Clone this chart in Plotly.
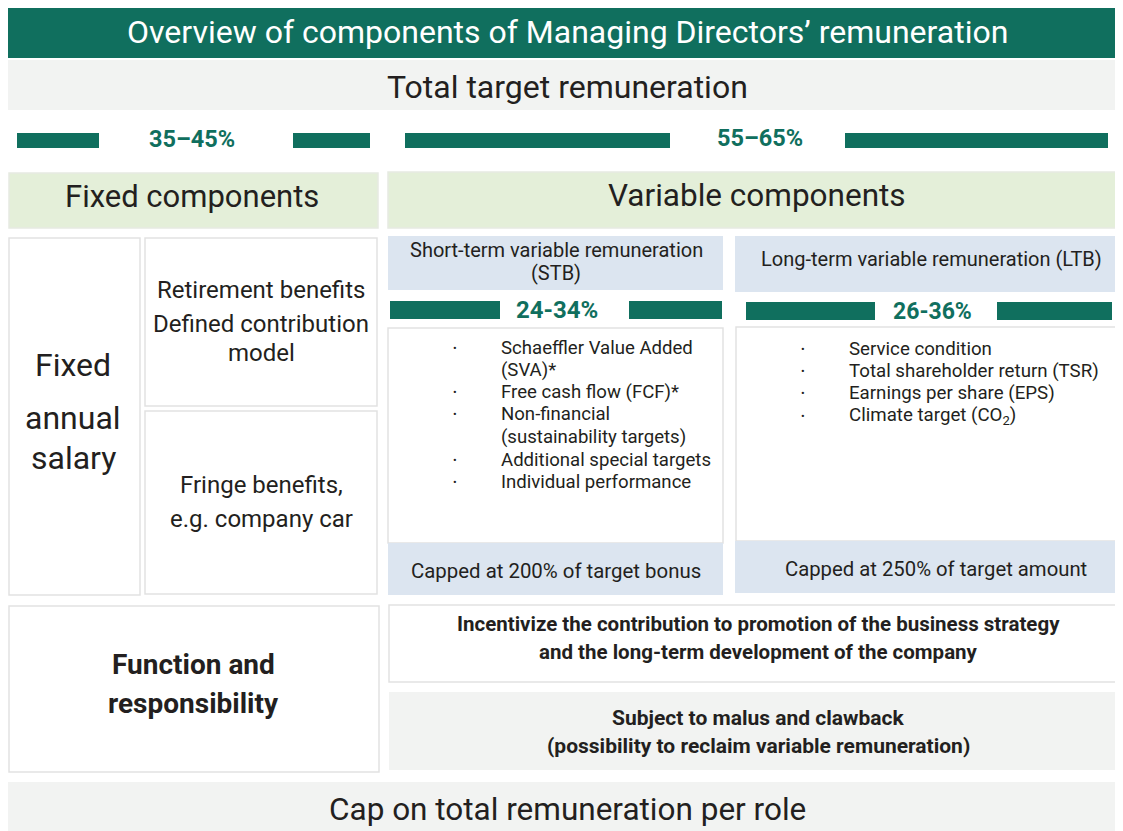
import plotly.graph_objects as go

W, H = 1123, 831
OFF = 8  # default page margin of the html body

# ---- text content ----
title = "Overview of components of Managing Directors’ remuneration"
total_label = "Total target remuneration"
fixed_share = "35–45%"
variable_share = "55–65%"
fixed_header = "Fixed components"
variable_header = "Variable components"
fixed_salary_lines = ["Fixed", "annual", "salary"]
retirement_lines = ["Retirement benefits", "Defined contribution", "model"]
fringe_lines = ["Fringe benefits,", "e.g. company car"]
stb_header_lines = ["Short-term variable remuneration", "(STB)"]
ltb_header = "Long-term variable remuneration (LTB)"
stb_share = "24-34%"
ltb_share = "26-36%"
stb_items = ["Schaeffler Value Added", "(SVA)*", "Free cash flow (FCF)*", "Non-financial",
             "(sustainability targets)", "Additional special targets", "Individual performance"]
stb_bullets = [True, False, True, True, False, True, True]
ltb_items = ["Service condition", "Total shareholder return (TSR)", "Earnings per share (EPS)",
             "Climate target (CO<sub>2</sub>)"]
stb_cap = "Capped at 200% of target bonus"
ltb_cap = "Capped at 250% of target amount"
function_lines = ["Function and", "responsibility"]
incentive_lines = ["Incentivize the contribution to promotion of the business strategy",
                   "and the long-term development of the company"]
malus_lines = ["Subject to malus and clawback", "(possibility to reclaim variable remuneration)"]
cap_total = "Cap on total remuneration per role"

# ---- style ----
TEAL = "#106F5E"
DARK = "#231F20"
GREEN_BG = "#E4EFD9"
BLUE_BG = "#DCE5F0"
GRAY_BG = "#F2F3F2"
BORDER = "#E2E2E2"
REG = "Roboto, 'Open Sans', sans-serif"

fig = go.Figure()
shapes = []
annos = []


def box(x0, y0, x1, y1, fill, line=None, lw=1.5):
    shapes.append(dict(type="rect", xref="x", yref="y", x0=x0, y0=y0, x1=x1, y1=y1,
                       fillcolor=fill, line=dict(color=line or fill, width=lw if line else 0),
                       layer="below"))


def text(x, y, s, size, color=DARK, anchor="center", bold=False):
    if bold:
        s = "<b>" + s + "</b>"
    annos.append(dict(x=x, y=y, xref="x", yref="y", text=s, showarrow=False,
                      xanchor=anchor, yanchor="middle",
                      font=dict(size=size, color=color, family=REG)))


# title
box(7, 5, 1123, 58, TEAL)
text(567, 32, title, 32, color="white")
# total target
box(7, 60, 1123, 110, GRAY_BG)
text(567, 87, total_label, 32)

# share bars row 1
for x0, x1 in [(17, 99), (293, 370), (405, 670), (845, 1108)]:
    box(x0, 133, x1, 148, TEAL)
text(192, 139, fixed_share, 23.5, color=TEAL, bold=True)
text(760, 138, variable_share, 23.5, color=TEAL, bold=True)

# headers
box(9, 173, 378, 228, GREEN_BG, line="#E6EAE2")
text(192, 196, fixed_header, 31)
box(388, 172, 1123, 228, GREEN_BG, line="#E6EAE2")
text(757, 195, variable_header, 31.5)

# fixed section
box(9, 238, 140, 595, "white", line=BORDER)
text(73, 365, fixed_salary_lines[0], 32)
text(73, 418, fixed_salary_lines[1], 32)
text(73, 458, fixed_salary_lines[2], 32)
box(145, 238, 377, 406, "white", line=BORDER)
for i, s in enumerate(retirement_lines):
    text(261, 290 + [0, 34, 63][i], s, 24)
box(145, 411, 377, 594, "white", line=BORDER)
text(261, 485, fringe_lines[0], 24)
text(261, 519, fringe_lines[1], 24)

# STB
box(388, 236, 723, 290, BLUE_BG)
text(556, 250, stb_header_lines[0], 20)
text(556, 273, stb_header_lines[1], 20)
for x0, x1 in [(390, 500), (629, 722)]:
    box(x0, 301, x1, 319, TEAL)
text(557, 310, stb_share, 24, color=TEAL, bold=True)
box(388, 328, 723, 543, "white", line=BORDER)
stb_y = [348, 370, 392, 414, 437, 460, 482]
for s, b, y in zip(stb_items, stb_bullets, stb_y):
    if b:
        text(455, y, "•", 11, anchor="center")
    text(499, y, s, 18.6, anchor="left")
box(388, 543, 723, 595, BLUE_BG)
text(556, 571, stb_cap, 20.4)

# LTB
box(735, 236, 1123, 292, BLUE_BG)
text(931, 259, ltb_header, 20)
for x0, x1 in [(746, 875), (997, 1112)]:
    box(x0, 302, x1, 320, TEAL)
text(932, 311, ltb_share, 23, color=TEAL, bold=True)
box(736, 327, 1121, 541, "white", line=BORDER)
ltb_y = [349, 371, 393, 416]
for s, y in zip(ltb_items, ltb_y):
    text(803, y, "•", 11, anchor="center")
    text(847, y, s, 18.7, anchor="left")
box(735, 541, 1123, 593, BLUE_BG)
text(936, 569, ltb_cap, 20.3)

# bottom section
box(9, 606, 379, 772, "white", line=BORDER)
text(193, 664, function_lines[0], 28, bold=True)
text(193, 703, function_lines[1], 28, bold=True)
box(389, 605, 1121, 682, "white", line=BORDER)
text(758, 624, incentive_lines[0], 20.5, bold=True)
text(758, 652, incentive_lines[1], 20.5, bold=True)
box(389, 692, 1123, 770, GRAY_BG)
text(758, 718, malus_lines[0], 21, bold=True)
text(758, 746, malus_lines[1], 21, bold=True)
box(7, 782, 1123, 831, GRAY_BG)
text(567, 809, cap_total, 31.5)

PH = H - OFF
fig.update_layout(
    width=W - OFF, height=PH, margin=dict(l=0, r=0, t=0, b=0),
    paper_bgcolor="white", plot_bgcolor="white",
    xaxis=dict(range=[OFF, W], visible=False, fixedrange=True),
    yaxis=dict(range=[OFF + PH, OFF], visible=False, fixedrange=True),
    shapes=shapes, annotations=annos, showlegend=False,
)
fig.write_html("out.html", config={"displayModeBar": False},
               default_width=f"{W - OFF}px", default_height=f"{PH}px")
